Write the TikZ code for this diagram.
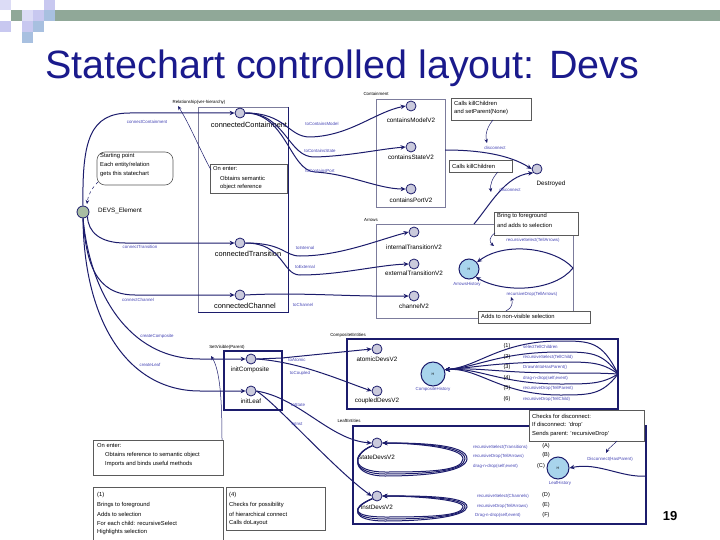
\documentclass[tikz,border=0pt]{standalone}
\usepackage{fontspec}
\setmainfont{Liberation Sans}
\usetikzlibrary{arrows.meta}
\definecolor{navy}{HTML}{1C1C6C}
\definecolor{lblue}{HTML}{4545B5}
\definecolor{stfill}{HTML}{CACADC}
\definecolor{dfill}{HTML}{A9BDA3}
\definecolor{hfill}{HTML}{A8D4EC}
\definecolor{boxgray}{HTML}{7C7C9C}
\definecolor{notegray}{HTML}{5A5A5A}
\definecolor{titlecol}{HTML}{1A1A8C}
\definecolor{sqA}{HTML}{C8C8F0}
\definecolor{sqB}{HTML}{DCDCF6}
\definecolor{sqC}{HTML}{A8C0E0}
\definecolor{sqG}{HTML}{90A898}
\begin{document}
\begin{tikzpicture}[x=1pt,y=-1pt,
  st/.style={circle,draw=navy,fill=stfill,line width=0.8pt,minimum size=10pt,inner sep=0pt},
  hist/.style={circle,draw=navy,fill=hfill,line width=1pt,minimum size=#1,inner sep=0pt,font=\fontsize{3.5}{4}\selectfont},
  stname/.style={font=\fontsize{6.3}{7}\selectfont,inner sep=0pt},
  bigname/.style={font=\fontsize{7.4}{8}\selectfont,inner sep=0pt},
  tlabel/.style={font=\fontsize{4.4}{5}\selectfont,text=lblue,inner sep=0pt},
  tinyblk/.style={font=\fontsize{4.4}{5}\selectfont,inner sep=0pt},
  numtxt/.style={font=\fontsize{5.6}{6}\selectfont,inner sep=0pt},
  conn/.style={draw=navy,line width=1pt,-{Stealth[length=5pt,width=4.5pt]}},
  thinconn/.style={draw=navy,line width=0.5pt,-{Stealth[length=4pt,width=3.5pt]}},
  notebox/.style={draw=notegray,fill=white,line width=0.6pt},
  notetext/.style={font=\fontsize{5.8}{6}\selectfont,inner sep=0pt,anchor=west},
  thinbox/.style={draw=boxgray,line width=0.6pt},
  thickbox/.style={draw=navy,line width=1.3pt},
]
\useasboundingbox (0,0) rectangle (720,540);
\fill[white] (0,0) rectangle (720,540);
% corner decoration
\fill[sqB] (0,0) rectangle (11,10);
\fill[sqA] (44,0) rectangle (55,10);
\fill[sqG] (11,10) rectangle (22,21);
\fill[sqB] (22,10) rectangle (33,21);
\fill[sqA] (33,10) rectangle (44,21);
\fill[sqC] (44,10) rectangle (55,21);
\fill[sqG] (55,10) rectangle (720,21);
\fill[sqA] (0,21) rectangle (11,32);
\fill[sqA] (22,21) rectangle (33,32);
\fill[sqC] (33,21) rectangle (44,32);
\fill[sqC] (22,32) rectangle (33,43);

% title
\node[anchor=base west,font=\fontsize{39.5}{44}\selectfont,text=titlecol,inner sep=0pt] (title) at (45,79) {Statechart controlled layout: Devs};
\node[font=\bfseries\fontsize{13}{14}\selectfont,inner sep=0pt] (pagenum) at (670,516) {19};

% ---------- boxes ----------
\draw[thinbox] (198,107) rectangle (288,312);
\draw[navy,line width=1pt] (288,107) -- (288,312) -- (198,312);
\draw[thinbox] (376,99) rectangle (445,207);
\draw[thinbox] (376,224) rectangle (573,318);
\draw[thickbox] (224,351) rectangle (282,410);
\draw[draw=navy,line width=1.2pt] (347,339) rectangle (618,409);
\draw[draw=navy,line width=1.4pt] (353,426) rectangle (646,524);

\node[tinyblk] (lContainment) at (376,94) {Containment};
\node[tinyblk] (lArrows) at (371,220) {Arrows};
\node[tinyblk] (lComposite) at (348,335) {CompositeEntities};
\node[tinyblk] (lLeaf) at (349,421) {LeafEntities};
\node[tinyblk] (lRel) at (199,102) {Relationship(ver-hierarchy)};
\node[tinyblk] (lSetVis) at (227,347) {SetVisible(Parent)};

% ---------- states ----------
\node[circle,draw=navy,fill=dfill,line width=0.8pt,minimum size=12pt,inner sep=0pt] (D) at (83,212) {};
\node[stname,anchor=west] (DT) at (98,211) {DEVS\_Element};

\node[st] (cCont) at (240,113) {};
\node[bigname] (cContT) at (249,124.5) {connectedContainment};
\node[st] (cTrans) at (240,243) {};
\node[bigname] (cTransT) at (248,253.5) {connectedTransition};
\node[st] (cChan) at (240,295) {};
\node[bigname] (cChanT) at (245,306) {connectedChannel};

\node[st] (cModel) at (411,106) {};
\node[stname] (cModelT) at (411,120) {containsModelV2};
\node[st] (cState) at (411,147) {};
\node[stname] (cStateT) at (411,157.5) {containsStateV2};
\node[st] (cPort) at (411,189) {};
\node[stname] (cPortT) at (411,200) {containsPortV2};

\node[st] (Dest) at (537,169) {};
\node[stname] (DestT) at (551,184) {Destroyed};

\node[st] (iTrans) at (414,232) {};
\node[stname] (iTransT) at (414,247) {internalTransitionV2};
\node[st] (eTrans) at (414,264) {};
\node[stname] (eTransT) at (414,273.5) {externalTransitionV2};
\node[st] (chan) at (414,296) {};
\node[stname] (chanT) at (414,306) {channelV2};
\node[hist=20pt] (H1) at (469,269) {H};
\node[tlabel] (H1T) at (467,284) {ArrowsHistory};

\node[st] (IC) at (251,359) {};
\node[stname] (ICT) at (250,370) {initComposite};
\node[st] (IL) at (251,391) {};
\node[stname] (ILT) at (251,401.5) {initLeaf};

\node[st] (At) at (377,349) {};
\node[stname] (AtT) at (377,359) {atomicDevsV2};
\node[st] (Cp) at (377,391) {};
\node[stname] (CpT) at (377,401) {coupledDevsV2};
\node[hist=24pt] (H2) at (433,374) {H};
\node[tlabel] (H2T) at (433,389.5) {CompositeHistory};

\node[st] (S) at (377,443) {};
\node[stname] (ST) at (377,457) {stateDevsV2};
\node[st] (I) at (377,496) {};
\node[stname] (IT) at (377,507) {instDevsV2};
\node[hist=22pt] (H3) at (558,468) {H};
\node[tlabel] (H3T) at (560,483.5) {LeafHistory};

% ---------- notes ----------
\draw[notebox,rounded corners=8pt] (97,152) rectangle (173,185);
\node[notetext] (sp1) at (100,156) {Starting point};
\node[notetext] (sp2) at (100,165) {Each entity/relation};
\node[notetext] (sp3) at (100,174) {gets this statechart};

\draw[notebox] (210,164) rectangle (287,193);
\node[notetext] (oe1) at (213,168.5) {On enter:};
\node[notetext] (oe2) at (220,178) {Obtains semantic};
\node[notetext] (oe3) at (220,187) {object reference};

\draw[notebox] (451,98) rectangle (531,120);
\node[notetext] (kc1) at (454,103.5) {Calls killChildren};
\node[notetext] (kc2) at (454,112.5) {and setParent(None)};

\draw[notebox] (449,160) rectangle (512,172);
\node[notetext] (kc3) at (452,166) {Calls killChildren};

\draw[notebox] (494,212) rectangle (578,235);
\node[notetext] (bf1) at (497,216) {Bring to foreground};
\node[notetext] (bf2) at (497,225.5) {and adds to selection};

\draw[notebox] (478,311) rectangle (590,323);
\node[notetext] (an1) at (481,316) {Adds to non-visible selection};

\draw[notebox] (529,410) rectangle (644,441);
\node[notetext] (ck1) at (532,416) {Checks for disconnect:};
\node[notetext] (ck2) at (532,425) {If disconnect: 'drop'};
\node[notetext] (ck3) at (532,434) {Sends parent: 'recursiveDrop'};

\draw[notebox] (93,440) rectangle (223,475);
\node[notetext] (oeb1) at (97,446) {On enter:};
\node[notetext] (oeb2) at (105,455) {Obtains reference to semantic object};
\node[notetext] (oeb3) at (105,464) {Imports and binds useful methods};

\draw[notebox] (93,487) rectangle (223,542);
\node[notetext] (n1a) at (97,495) {(1)};
\node[notetext] (n1b) at (97,505) {Brings to foreground};
\node[notetext] (n1c) at (97,514) {Adds to selection};
\node[notetext] (n1d) at (97,523) {For each child: recursiveSelect};
\node[notetext] (n1e) at (97,532) {Highlights selection};

\draw[notebox] (226,487) rectangle (325,530);
\node[notetext] (n4a) at (229,495) {(4)};
\node[notetext] (n4b) at (229,505) {Checks for possibility};
\node[notetext] (n4c) at (229,514) {of hierarchical connect};
\node[notetext] (n4d) at (229,523) {Calls doLayout};

% ---------- coordinates ----------
\coordinate (dsrc1) at (445,150);
\coordinate (dsrc2) at (474,224);
\coordinate (R1) at (573,268);
\coordinate (R2) at (618,374);
\coordinate (H3src) at (646,476);

% ---------- connectors from DEVS_Element ----------
\draw[conn] (D.north) .. controls (82,140) and (90,113) .. (130,113) -- (cCont.west);
\draw[conn] (D.south east) .. controls (88,232) and (100,243) .. (125,243) -- (cTrans.west);
\draw[conn] (D.south) .. controls (86,262) and (95,295) .. (135,295) -- (cChan.west);
\draw[conn] (D.south) .. controls (90,292) and (128,359) .. (200,359) -- (IC.west);
\draw[conn] (D.south) .. controls (84,322) and (128,391) .. (200,391) -- (IL.west);
\node[tlabel] (tcc) at (147,122) {connectContainment};
\node[tlabel] (tct) at (140,247) {connectTransition};
\node[tlabel] (tch) at (138,299.5) {connectChannel};
\node[tlabel] (tcco) at (157,336) {createComposite};
\node[tlabel] (tcl) at (150,365) {createLeaf};

% ---------- containment ----------
\draw[conn] (cCont.east) .. controls (286,113) and (288,137) .. (310,137) .. controls (350,136) and (375,112) .. (cModel.west);
\draw[conn] (cCont.east) .. controls (286,113) and (288,158) .. (315,157) .. controls (350,156) and (380,149) .. (cState.west);
\draw[conn] (cCont.east) .. controls (286,113) and (290,171) .. (315,172) .. controls (350,174) and (378,189) .. (cPort.west);
\node[tlabel] (tcm) at (322,124) {toContainsModel};
\node[tlabel] (tcs) at (320,151) {toContainsState};
\node[tlabel] (tcp) at (320,171) {toContainsPort};

% ---------- transitions / channels ----------
\draw[conn] (cTrans.east) .. controls (284,243) and (284,256) .. (300,256) .. controls (340,256) and (378,240) .. (iTrans.west);
\draw[conn] (cTrans.east) .. controls (284,243) and (282,275) .. (300,275) .. controls (340,275) and (378,265) .. (eTrans.west);
\draw[conn] (cChan.east) .. controls (300,292) and (350,297) .. (chan.west);
\node[tlabel] (tin) at (305,248) {toInternal};
\node[tlabel] (tex) at (305,267) {toExternal};
\node[tlabel] (tchn) at (303,304.5) {toChannel};

% ---------- destroyed ----------
\draw[conn] (dsrc1) .. controls (480,150) and (510,155) .. (Dest.west);
\draw[conn] (dsrc2) .. controls (490,205) and (505,176) .. (Dest.south west);
\draw[thinconn] (493,120) .. controls (487,127) and (485,135) .. (487,143);
\draw[thinconn] (498,172) .. controls (492,178) and (490,185) .. (491,192);
\node[tlabel] (dis1) at (495,147.5) {disconnect};
\node[tlabel] (dis2) at (510,189.5) {disconnect};

% ---------- arrows history loop ----------
\draw[conn] (R1) .. controls (555,248) and (505,241) .. (H1.40);
\draw[conn] (R1) .. controls (555,291) and (505,294) .. (H1.-50);
\node[tlabel] (rsa) at (533,240.5) {recursiveSelect(TellArrows)};
\node[tlabel] (rda) at (532,294.5) {recursiveDrop(TellArrows)};
\draw[thinconn] (495,233) .. controls (489,237) and (489,242) .. (494,246);
\draw[thinconn] (506,311) .. controls (512,308) and (513,303) .. (511,297);

% ---------- composite ----------
\draw[conn] (IC.east) -- (282,358) -- (At.west);
\draw[conn] (IC.east) .. controls (300,362) and (340,380) .. (Cp.west);
\node[tlabel] (tat) at (297,359.5) {toAtomic};
\node[tlabel] (tcu) at (300,373) {toCoupled};
\foreach \L in {341,352,362,373,384,395} {
  \draw[conn] (R2) .. controls (602,\L) and (590,\L) .. (560,\L) .. controls (500,\L) and (478,367) .. (H2.20);
}
\node[numtxt] (c1) at (507,346) {(1)};
\node[numtxt] (c2) at (507,357) {(2)};
\node[numtxt] (c3) at (507,367) {(3)};
\node[numtxt] (c4) at (507,378) {(4)};
\node[numtxt] (c5) at (507,388) {(5)};
\node[numtxt] (c6) at (507,399) {(6)};
\node[tlabel,anchor=west] (e1) at (523,346.5) {selectTellChildren};
\node[tlabel,anchor=west] (e2) at (523,357.5) {recursiveSelect(TellChild)};
\node[tlabel,anchor=west] (e3) at (523,367.5) {DrawnIntoHasParent()};
\node[tlabel,anchor=west] (e4) at (523,378) {drag-n-drop(self,event)};
\node[tlabel,anchor=west] (e5) at (523,388.5) {recursiveDrop(TellParent)};
\node[tlabel,anchor=west] (e6) at (523,399) {recursiveDrop(TellChild)};

% ---------- leaf ----------
\draw[conn] (IL.east) .. controls (300,398) and (330,440) .. (S.west);
\draw[conn] (IL.east) .. controls (275,402) and (335,470) .. (I.west);
\node[tlabel] (tst) at (298,404.5) {toState};
\node[tlabel] (tis) at (297,424) {toInst};
\foreach \k in {0,1,2} {
  \draw[conn] (S.210) .. controls (350,455) and (352,472+2*\k) .. (385,472+2*\k) .. controls (430,472+2*\k) and (462+2*\k,471) .. (463+2*\k,459) .. controls (464+2*\k,447-2*\k) and (410,443) .. (S.east);
  \draw[conn] (I.210) .. controls (350,508) and (352,517+2*\k) .. (385,517+2*\k) .. controls (430,517+2*\k) and (462+2*\k,516) .. (463+2*\k,507) .. controls (464+2*\k,499-2*\k) and (410,496) .. (I.east);
}
\node[tlabel,anchor=west] (la) at (473,447.5) {recursiveSelect(Transitions)};
\node[tlabel,anchor=west] (lb) at (473,456.5) {recursiveDrop(TellArrows)};
\node[tlabel,anchor=west] (lc) at (473,466) {drag-n-drop(self,event)};
\node[tlabel,anchor=west] (ld) at (477,496) {recursiveSelect(Channels)};
\node[tlabel,anchor=west] (le) at (477,506) {recursiveDrop(TellArrows)};
\node[tlabel,anchor=west] (lf) at (475,515) {Drag-n-drop(self,event)};
\node[numtxt] (pa) at (546,446) {(A)};
\node[numtxt] (pb) at (546,455) {(B)};
\node[numtxt] (pc) at (541,466) {(C)};
\node[numtxt] (pd) at (546,495) {(D)};
\node[numtxt] (pe) at (546,505) {(E)};
\node[numtxt] (pf) at (546,515) {(F)};
\draw[conn] (H3src) .. controls (622,478) and (598,462) .. (H3.east);
\draw[thinconn] (617,441) .. controls (612,446) and (608,449) .. (606,453);
\node[tlabel] (dhp) at (610,459) {Disconnect(HasParent)};

% ---------- note pointers ----------
\draw[thinconn,dashed] (98,182) .. controls (92,188) and (88,195) .. (87,204);
\draw[thinconn] (211,170) .. controls (200,150) and (190,125) .. (178,106);
\draw[thinconn] (222,440) .. controls (222,400) and (220,370) .. (211,356);
\end{tikzpicture}
\end{document}
